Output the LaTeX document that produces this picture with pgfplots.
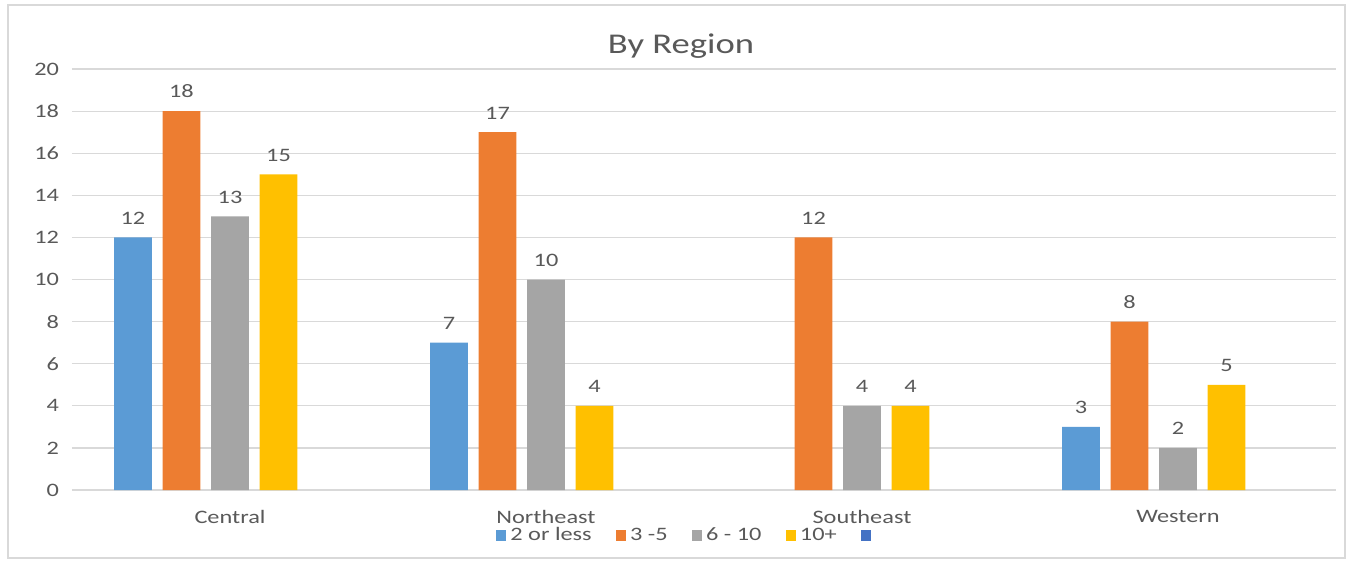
\documentclass[border=0pt]{standalone}
\usepackage{pgfplots}
\pgfplotsset{compat=1.18}
\usepackage{fontspec}
\setmainfont{Carlito}[FakeStretch=1.28]

\definecolor{cA}{HTML}{5B9BD5}
\definecolor{cB}{HTML}{ED7D31}
\definecolor{cC}{HTML}{A5A5A5}
\definecolor{cD}{HTML}{FFC000}
\definecolor{cE}{HTML}{4472C4}
\definecolor{txt}{HTML}{595959}
\definecolor{grd}{HTML}{D9D9D9}

\begin{document}
\begin{tikzpicture}
\path (0,0) rectangle (676.5pt,281.5pt);
\draw[grd, line width=0.8pt] (4pt,2.5pt) rectangle (672.5pt,279pt);
\node[text=txt, font=\fontsize{14.3}{16}\selectfont] at (340.5pt,258.5pt) {By Region};
\begin{axis}[at={(36pt,36.5pt)}, anchor=south west, scale only axis,
  width=632pt, height=210.5pt,
  xmin=-0.5, xmax=3.5, ymin=0, ymax=20,
  /pgf/number format/assume math mode=true,
  ytick={0,2,...,20}, xtick={0,1,2,3},
  xticklabels={Central,Northeast,Southeast,Western},
  ymajorgrids, grid style={grd, line width=0.6pt},
  axis line style={draw=none}, major tick length=0pt,
  ticklabel style={font=\fontsize{9.5}{11}\selectfont, text=txt},
  yticklabel style={xshift=-3pt},
  xticklabel style={yshift=-6.5pt},
  ybar, bar width=0.12,
  nodes near coords,
  every node near coord/.append style={font=\fontsize{9.5}{11}\selectfont, text=txt, yshift=3pt},
  legend style={at={(0.487,-0.069)}, anchor=north, draw=none, fill=none,
    legend columns=-1, font=\fontsize{9.5}{11}\selectfont, text=txt,
    /tikz/every even column/.append style={column sep=10pt}},
  legend image code/.code={\fill[#1] (0pt,-2.6pt) rectangle (5.2pt,2.6pt);},
]
\addplot[fill=cA, draw=none, bar shift=-0.307] coordinates {(0,12) (1,7) (3,3)};
\addlegendentry{2 or less}
\addplot[fill=cB, draw=none, bar shift=-0.1535] coordinates {(0,18) (1,17) (2,12) (3,8)};
\addlegendentry{3 -5}
\addplot[fill=cC, draw=none, bar shift=0] coordinates {(0,13) (1,10) (2,4) (3,2)};
\addlegendentry{6 - 10}
\addplot[fill=cD, draw=none, bar shift=0.1535] coordinates {(0,15) (1,4) (2,4) (3,5)};
\addlegendentry{10+}
\addlegendimage{fill=cE, draw=none}
\addlegendentry{}
\end{axis}
\end{tikzpicture}
\end{document}
